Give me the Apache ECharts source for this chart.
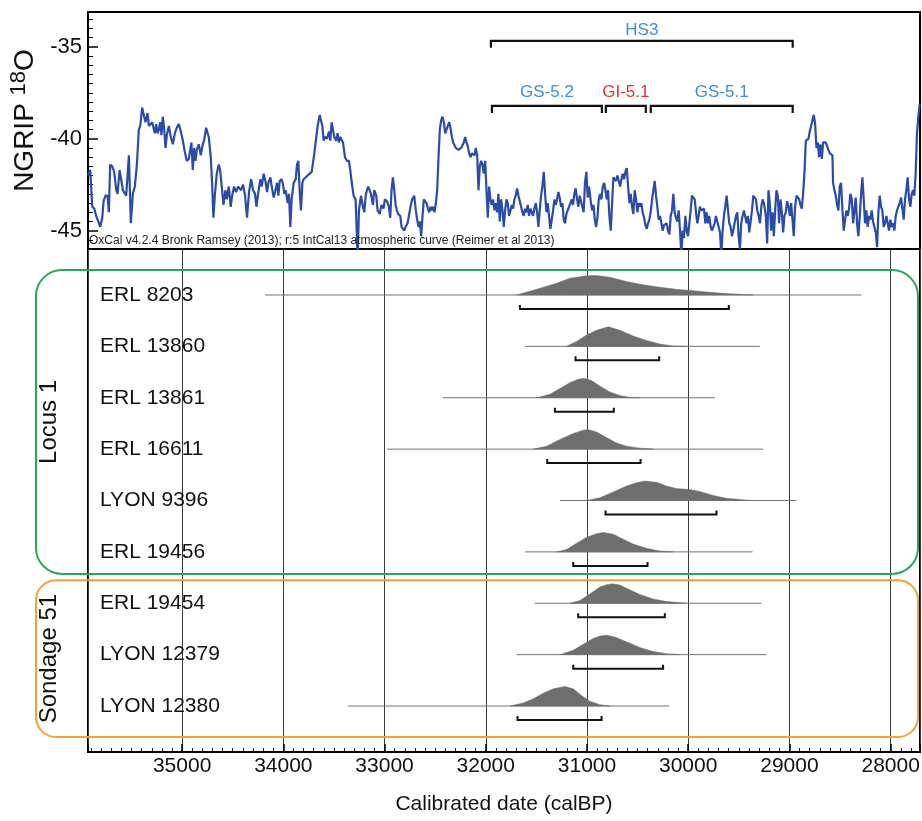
<!DOCTYPE html>
<html><head><meta charset="utf-8">
<script src="https://cdn.jsdelivr.net/npm/echarts@6/dist/echarts.min.js"></script>
<style>html,body{margin:0;padding:0;background:#fff}#c{width:922px;height:821px}</style>
</head><body><div id="c"></div>
<script>
// ---------- DATA ----------
// NGRIP d18O record (calBP, permil)
const ngripYears = [
35930,35908,35888,35868,35849,35829,35809,35789,35776,35757,35737,35724,35711,35691,35671,35651,35638,35618,35599,35585,
35566,35553,35526,35507,35487,35467,35447,35428,35414,35395,35375,35362,35342,35329,35316,35296,35283,35270,35256,35243,
35230,35217,35204,35191,35178,35164,35151,35131,35112,35092,35072,35053,35033,35013,34993,34974,34954,34934,34921,34908,
34895,34881,34868,34855,34835,34816,34796,34783,34763,34750,34737,34717,34704,34691,34677,34658,34638,34625,34605,34592,
34572,34559,34539,34520,34506,34487,34467,34447,
34418,34398,34378,34359,34339,34319,34299,34280,34266,34247,34227,34214,34194,34174,34161,34148,34128,34115,34095,34082,
34062,34049,34036,34016,34003,33990,33977,33957,33944,33931,33918,33898,33878,33865,33852,33839,33826,33812,33799,33780,
33760,33740,33720,33707,33694,33681,33661,33641,33628,33615,33602,33589,33569,33549,33536,33523,33510,33497,33477,33464,
33451,33437,33424,33411,33391,33372,33352,33339,33326,33306,33286,33266,33253,33233,33214,33200,33187,33174,33161,33148,
33135,33115,33102,33082,33069,33049,33030,33010,32997,32977,32957,32944,32931,32918,32904,32891,32878,32865,32845,32832,
32819,32806,32793,32773,32760,32740,32727,32707,
32691,32678,32664,32651,32638,32625,32612,32599,32586,32572,32559,32546,32533,32520,32507,32493,32480,32467,32454,32441,
32428,32414,32401,32388,32375,32362,32349,32335,32322,32309,32296,32283,32270,32257,32243,32230,32217,32204,32191,32178,
32164,32151,32138,32125,32112,32099,32085,32072,32059,32046,32033,32020,32006,31993,31980,31967,31954,31941,31928,31914,
31901,31888,31875,31862,31849,31835,31822,31809,31796,31783,31770,31756,31743,31730,31717,31704,31691,31677,31664,31651,
31638,31625,31612,31599,31585,31572,31559,31546,31533,31520,31506,31493,31480,31467,31454,31441,31427,31414,31401,31388,
31375,31362,31348,31335,31322,31309,31296,31283,31270,31256,31243,31230,31217,31204,31191,31177,31164,31151,31138,31125,
31112,31098,31085,31072,31059,31046,31033,31020,31006,30993,30980,
30963,30950,30936,30923,30910,30897,30884,30871,30858,30844,30831,30818,30805,30792,30779,30765,30752,30739,30726,30713,
30700,30686,30673,30660,30647,30634,30621,30607,30594,30581,30568,30555,30542,30529,30515,30502,30489,30476,30463,30450,
30436,30423,30410,30397,30384,30371,30357,30344,30331,30318,30305,30292,30279,30265,30252,30239,30226,30213,30200,30186,
30173,30160,30147,30134,30121,30107,30094,30081,30068,30055,30042,30028,30015,30002,29989,29976,29963,29950,29936,29923,
29910,29897,29884,29871,29857,29844,29831,29818,29805,29792,29778,29765,29752,29739,29726,29713,29699,29686,29673,29660,
29647,29634,29620,29607,29594,29581,29568,29555,29542,29528,29515,29502,29489,29476,29463,29449,29436,29423,29410,29397,
29384,29370,29357,29344,29331,29318,29304,29291,29278,29265,29252,
29233,29220,29207,29194,29181,29167,29154,29141,29128,29115,29102,29088,29075,29062,29049,29036,29023,29009,28996,28983,
28970,28957,28944,28930,28917,28904,28891,28878,28865,28852,28838,28825,28812,28799,28786,28773,28759,28746,28733,28720,
28707,28694,28680,28667,28654,28641,28628,28615,28601,28588,28575,28569,28555,28542,28529,28516,28503,28490,28476,28463,
28450,28437,28424,28411,28398,28384,28371,28358,28345,28332,28319,28305,28292,28279,28266,28253,28240,28227,28213,28200,
28187,28174,28161,28147,28134,28121,28108,28095,28082,28069,28055,28042,28029,28016,28003,27990,27976,27963,27950,27937,
27924,27911,27897,27884,27871,27858,27845,27832,27818,27805,27792,27779,27766,27753,27740,27726,27713
];
const ngripD18O = [
-42.0,-41.7,-43.7,-43.8,-44.2,-44.5,-44.8,-44.3,-43.4,-43.1,-43.1,-44.0,-41.4,-41.5,-41.8,-42.8,-43.0,-41.7,-41.7,-42.8,
-42.9,-43.1,-40.9,-44.6,-43.0,-42.6,-41.4,-39.5,-39.3,-38.3,-38.8,-39.1,-38.6,-39.3,-39.4,-39.1,-39.4,-39.7,-39.2,-39.7,
-39.5,-39.1,-39.8,-38.8,-39.4,-40.5,-39.8,-39.3,-39.9,-40.3,-39.7,-39.4,-39.2,-39.6,-40.1,-40.7,-41.2,-41.1,-41.2,-40.2,
-41.7,-40.5,-41.2,-40.6,-40.3,-40.9,-40.3,-40.1,-39.4,-39.5,-39.9,-41.0,-42.4,-44.3,-43.1,-41.9,-41.4,-41.7,-42.8,-43.6,
-42.8,-43.3,-42.6,-43.7,-43.1,-42.6,-42.9,-42.6,
-42.8,-42.5,-43.1,-44.3,-42.9,-42.2,-42.8,-43.0,-43.7,-42.9,-42.2,-42.6,-41.9,-42.4,-42.9,-42.4,-42.1,-42.6,-43.2,-42.9,
-42.4,-43.1,-42.3,-42.2,-42.5,-43.0,-42.8,-43.5,-43.0,-44.8,-43.3,-42.4,-42.2,-41.4,-41.2,-42.8,-43.9,-42.4,-42.2,-42.1,
-42.0,-41.9,-41.8,-41.3,-40.8,-40.2,-39.3,-38.7,-38.6,-39.3,-40.1,-39.9,-40.0,-39.6,-40.1,-39.1,-39.0,-39.9,-40.1,-39.7,
-40.2,-39.9,-39.8,-40.2,-41.0,-41.2,-41.2,-41.7,-42.3,-43.1,-43.3,-46.5,-43.9,-43.1,-43.7,-44.0,-43.1,-42.8,-42.6,-42.8,
-43.0,-43.6,-42.8,-43.1,-43.9,-44.1,-43.6,-43.8,-43.3,-43.4,-43.7,-44.3,-42.8,-42.1,-42.8,-43.6,-43.9,-44.1,-44.2,-44.8,
-44.8,-45.0,-44.8,-44.6,-44.5,-43.6,-43.3,-43.1,
-43.9,-44.4,-44.8,-44.5,-45.3,-44.2,-43.3,-43.4,-43.5,-43.8,-44.0,-43.7,-43.9,-43.7,-44.0,-43.5,-42.8,-41.0,-39.5,-39.0,
-38.8,-39.1,-39.7,-39.7,-39.3,-39.1,-39.4,-39.9,-40.2,-40.3,-40.5,-40.6,-40.6,-40.7,-40.5,-40.6,-40.2,-39.9,-40.2,-40.4,
-40.8,-41.0,-40.8,-40.9,-40.9,-40.5,-40.9,-42.8,-41.5,-41.2,-41.4,-41.9,-41.2,-42.8,-44.3,-42.6,-43.3,-43.6,-43.3,-43.9,
-43.5,-44.0,-43.0,-44.5,-43.3,-43.9,-44.8,-43.9,-43.3,-43.5,-44.2,-43.9,-43.6,-43.8,-43.3,-43.1,-42.7,-43.1,-43.4,-43.7,
-44.0,-44.2,-43.8,-44.0,-43.6,-44.2,-43.8,-43.9,-44.2,-43.8,-43.5,-44.0,-44.8,-43.9,-43.1,-42.6,-41.8,-43.0,-44.0,-43.5,
-44.2,-44.9,-44.4,-43.9,-43.3,-43.6,-43.3,-42.9,-43.2,-43.7,-43.5,-44.4,-44.6,-44.1,-43.9,-43.7,-43.5,-43.3,-43.6,-43.0,
-42.7,-43.3,-43.7,-43.1,-43.1,-43.7,-44.0,-42.4,-41.8,-43.2,-42.6,
-43.4,-43.9,-43.6,-44.4,-44.8,-44.3,-43.3,-43.0,-43.3,-42.6,-42.4,-42.8,-43.3,-42.8,-44.2,-45.0,-43.5,-42.1,-42.1,-42.3,
-42.0,-42.3,-42.6,-42.2,-41.9,-42.2,-41.8,-41.6,-42.6,-43.5,-43.0,-43.7,-44.1,-42.8,-43.3,-44.0,-43.5,-43.7,-43.5,-44.0,
-44.3,-44.7,-44.9,-44.6,-44.4,-44.0,-43.3,-42.8,-42.3,-43.1,-43.7,-44.4,-44.2,-44.6,-45.0,-44.7,-44.8,-44.6,-45.0,-45.2,
-44.2,-43.9,-43.0,-44.0,-44.3,-44.5,-43.9,-45.0,-46.3,-45.0,-45.4,-44.2,-45.0,-45.3,-44.6,-43.9,-43.1,-43.0,-43.3,-44.0,
-44.6,-44.2,-43.7,-43.9,-44.0,-43.8,-44.6,-44.0,-44.6,-44.2,-44.8,-45.0,-45.0,-44.6,-44.2,-44.5,-44.8,-45.1,-46.3,-45.0,
-44.2,-43.7,-43.1,-43.9,-44.6,-44.8,-45.3,-45.0,-44.6,-44.2,-44.0,-45.3,-46.0,-44.6,-44.2,-43.9,-44.0,-44.6,-44.2,-45.1,
-45.0,-43.9,-43.1,-43.0,-43.3,-43.9,-44.2,-44.6,-43.7,-43.3,-43.5,
-44.2,-45.7,-42.8,-43.5,-45.0,-44.0,-45.3,-43.9,-42.8,-43.1,-44.6,-43.3,-44.0,-45.1,-44.2,-44.0,-43.4,-43.7,-44.2,-43.5,
-44.4,-45.3,-43.7,-43.1,-43.1,-43.3,-43.6,-43.8,-43.0,-41.9,-40.1,-40.1,-40.0,-39.6,-39.3,-39.0,-38.7,-39.2,-40.5,-40.2,
-41.0,-40.3,-41.1,-40.2,-40.2,-40.2,-40.4,-40.6,-40.8,-40.8,-40.9,-42.4,-42.8,-43.1,-43.6,-43.9,-42.6,-42.4,-43.9,-45.0,
-44.4,-43.9,-44.2,-43.8,-43.0,-43.3,-44.6,-43.9,-43.2,-44.6,-45.3,-44.2,-43.0,-42.1,-43.3,-44.6,-43.9,-44.8,-44.2,-44.4,
-43.9,-44.5,-44.4,-45.1,-45.9,-44.0,-43.1,-43.7,-43.9,-44.8,-44.6,-44.2,-44.1,-45.0,-44.4,-44.8,-44.6,-45.0,-44.2,-43.9,
-43.7,-43.5,-43.2,-43.3,-44.4,-43.3,-42.8,-42.1,-43.3,-43.7,-43.0,-42.8,-43.1,-41.9,-39.7,-38.8,-38.1
];

// Climate stadials / interstadials
const periodNames = ['HS3', 'GS-5.2', 'GI-5.1', 'GS-5.1'];
const periodStart = [31949, 31939, 30814, 30370];
const periodEnd   = [28968, 30853, 30419, 28968];
const periodLevel = [0, 1, 1, 1];

// Radiocarbon samples
const sampleNames = ['ERL 8203','ERL 13860','ERL 13861','ERL 16611','LYON 9396','ERL 19456','ERL 19454','LYON 12379','LYON 12380'];
const groupNames = ['Locus 1', 'Sondage 51'];
const groupFirst = [0, 6];
const groupLast  = [5, 8];
const rangeStart = [34181, 31613, 32423, 32976, 31268, 31613, 31515, 31696, 33361];
const rangeEnd   = [28290, 29293, 29737, 29260, 28931, 29365, 29277, 29227, 30188];
const hpdStart   = [31663, 31113, 31317, 31393, 30817, 31136, 31087, 31136, 31686];
const hpdEnd     = [29599, 30287, 30735, 30471, 29721, 30402, 30231, 30248, 30856];
const densityYears = [
  [31696,31498,31301,31169,31004,30906,30774,30610,30445,30280,30116,29951,29787,29622,29359],
  [31202,31103,31004,30906,30790,30675,30544,30412,30280,30149,30017],
  [31498,31366,31268,31169,31087,31031,30955,30873,30774,30676,30577,30478],
  [31531,31399,31268,31136,31037,30988,30906,30807,30708,30610,30478,30346],
  [31004,30873,30741,30610,30511,30429,30313,30215,30116,29984,29885,29754,29622,29425,29359],
  [31301,31202,31103,31004,30906,30840,30741,30642,30544,30412,30280,30149],
  [31169,31070,30972,30873,30807,30748,30675,30577,30478,30346,30215,30017],
  [31268,31136,31037,30939,30873,30807,30725,30610,30478,30346,30215,30083],
  [31761,31630,31531,31432,31334,31218,31136,31054,30972,30873,30774]
];
const densityValues = [
  [0,0.29,0.60,0.86,0.98,1.0,0.91,0.69,0.52,0.40,0.29,0.22,0.14,0.07,0],
  [0,0.25,0.58,0.83,1.0,0.83,0.53,0.30,0.12,0.02,0],
  [0,0.18,0.47,0.77,0.95,1.0,0.88,0.60,0.30,0.11,0.02,0],
  [0,0.15,0.49,0.80,0.97,1.0,0.88,0.59,0.32,0.15,0.05,0],
  [0,0.14,0.44,0.74,0.91,1.0,0.93,0.75,0.61,0.56,0.46,0.26,0.11,0.02,0],
  [0,0.12,0.44,0.75,0.93,1.0,0.91,0.65,0.40,0.18,0.05,0],
  [0,0.14,0.48,0.83,0.95,1.0,0.93,0.69,0.45,0.22,0.09,0],
  [0,0.22,0.53,0.83,0.95,1.0,0.91,0.66,0.36,0.16,0.05,0],
  [0,0.15,0.37,0.66,0.88,1.0,0.88,0.54,0.24,0.07,0]
];

// ---------- LAYOUT / STYLE ----------
const X_MIN = 27710, X_MAX = 35930;
const FONT = '"Liberation Sans", Arial, sans-serif';
const PEAK_PX = 19.5, BAR_OFFSET = 14;
const BRACKET_Y = [-34.67, -38.21];
const BRACKET_LABEL_GAP = [11, 14];
const periodColors = ['#3d8fd6', '#3d8fd6', '#e3323a', '#3d8fd6'];
const groupColors = ['#2aa55a', '#f5a133'];

const chart = echarts.init(document.getElementById('c'), null, {renderer: 'canvas'});

const option = {
  animation: false,
  backgroundColor: '#fff',
  textStyle: {fontFamily: FONT},
  grid: [
    {left: 88, right: 2, top: 12, height: 237, show: true, borderColor: '#000', borderWidth: 2,
     backgroundColor: 'transparent', containLabel: false, outerBoundsMode: 'none'},
    {left: 88, right: 2, top: 249, height: 503, show: true, borderColor: '#000', borderWidth: 2,
     backgroundColor: 'transparent', containLabel: false, outerBoundsMode: 'none'}
  ],
  xAxis: [
    {gridIndex: 0, type: 'value', min: X_MIN, max: X_MAX, inverse: true, show: false},
    {gridIndex: 1, type: 'value', min: X_MIN, max: X_MAX, inverse: true, splitNumber: 8,
     axisLine: {show: true, onZero: false, lineStyle: {color: '#000', width: 2}},
     axisTick: {show: true, inside: true, length: 8, lineStyle: {color: '#000', width: 1.5}},
     minorTick: {show: true, splitNumber: 10, length: 4, lineStyle: {color: '#000', width: 1}},
     splitLine: {show: true, lineStyle: {color: '#3a3a3a', width: 1}},
     axisLabel: {fontSize: 21, color: '#111', margin: 4, fontFamily: FONT, showMinLabel: false, showMaxLabel: false,
                 formatter: v => String(v)},
     name: 'Calibrated date (calBP)', nameLocation: 'middle', nameGap: 42,
     nameTextStyle: {fontSize: 21, color: '#111', fontFamily: FONT}}
  ],
  yAxis: [
    {gridIndex: 0, type: 'value', min: -46, max: -33.1, splitNumber: 3,
     axisLine: {show: true, onZero: false, lineStyle: {color: '#000', width: 2}},
     axisTick: {show: true, inside: true, length: 10, lineStyle: {color: '#000', width: 1.5}},
     minorTick: {show: true, splitNumber: 10, length: 5, lineStyle: {color: '#000', width: 1}},
     splitLine: {show: false},
     axisLabel: {fontSize: 22, color: '#111', margin: 6, fontFamily: FONT, showMinLabel: false, showMaxLabel: false},
     name: '{a|NGRIP }{s|18}{a|O}', nameLocation: 'middle', nameGap: 42, nameRotate: 90,
     nameTextStyle: {padding: [0, 0, 0, 20], rich: {
       a: {fontSize: 28, color: '#111', fontFamily: FONT},
       s: {fontSize: 22, color: '#111', fontFamily: FONT, verticalAlign: 'top', padding: [0, 0, 12, 0]}
     }}},
    {gridIndex: 1, type: 'value', min: -0.895, max: 8.895, inverse: true, show: false}
  ],
  series: [
    {
      type: 'line', xAxisIndex: 0, yAxisIndex: 0, clip: true,
      data: ngripYears.map((y, i) => [y, ngripD18O[i]]),
      showSymbol: false, symbol: 'none',
      lineStyle: {color: '#2b4ba8', width: 2.2}, z: 3
    },
    {
      type: 'custom', xAxisIndex: 0, yAxisIndex: 0,
      data: periodNames.map((n, i) => [periodStart[i], periodEnd[i], BRACKET_Y[periodLevel[i]]]),
      encode: {x: [0, 1], y: 2},
      renderItem: function (params, api) {
        const i = params.dataIndex;
        const lv = periodLevel[i];
        const p1 = api.coord([periodStart[i], BRACKET_Y[lv]]);
        const p2 = api.coord([periodEnd[i], BRACKET_Y[lv]]);
        const y = p1[1];
        return {type: 'group', children: [
          {type: 'polyline', shape: {points: [[p1[0], y + 7], [p1[0], y], [p2[0], y], [p2[0], y + 7]]},
           style: {stroke: '#111', lineWidth: 2.2, fill: null}},
          {type: 'text', x: (p1[0] + p2[0]) / 2, y: y - BRACKET_LABEL_GAP[lv],
           style: {text: periodNames[i], fill: periodColors[i], font: '17px ' + FONT,
                   align: 'center', verticalAlign: 'middle', textAlign: 'center', textVerticalAlign: 'middle'}}
        ]};
      }, z: 4
    },
    {
      type: 'custom', xAxisIndex: 1, yAxisIndex: 1,
      data: sampleNames.map((n, i) => [rangeStart[i], rangeEnd[i], i]),
      encode: {x: [0, 1], y: 2},
      renderItem: function (params, api) {
        const i = params.dataIndex;
        const a = api.coord([rangeStart[i], i]);
        const b = api.coord([rangeEnd[i], i]);
        const pts = densityYears[i].map((yr, k) => {
          const p = api.coord([yr, i]);
          return [p[0], p[1] - densityValues[i][k] * PEAK_PX];
        });
        const h1 = api.coord([hpdStart[i], i]);
        const h2 = api.coord([hpdEnd[i], i]);
        const by = a[1] + BAR_OFFSET;
        const lx = api.coord([X_MAX, i])[0] + 12;
        return {type: 'group', children: [
          {type: 'line', shape: {x1: a[0], y1: a[1], x2: b[0], y2: b[1]}, style: {stroke: '#7a7070', lineWidth: 1}},
          {type: 'polygon', shape: {points: pts}, style: {fill: '#6e6e6e', stroke: '#6e6e6e', lineWidth: 0.5}},
          {type: 'polyline', shape: {points: [[h1[0], by - 4], [h1[0], by], [h2[0], by], [h2[0], by - 4]]},
           style: {stroke: '#111', lineWidth: 2, fill: null}},
          {type: 'text', x: lx, y: a[1],
           style: {text: sampleNames[i], fill: '#111', font: '21px ' + FONT,
                   align: 'left', verticalAlign: 'middle', textAlign: 'left', textVerticalAlign: 'middle'}}
        ]};
      }, z: 4
    }
  ]
};
chart.setOption(option);

// group boxes (Locus 1 / Sondage 51), positioned from the row scale
const padTop = [25, 23], padBottom = [22, 31], radius = [26, 20];
const graphics = [];
groupNames.forEach((g, k) => {
  const yTop = chart.convertToPixel({xAxisIndex: 1, yAxisIndex: 1}, [X_MAX, groupFirst[k]])[1] - padTop[k];
  const yBot = chart.convertToPixel({xAxisIndex: 1, yAxisIndex: 1}, [X_MAX, groupLast[k]])[1] + padBottom[k];
  graphics.push({type: 'rect', shape: {x: 36, y: yTop, width: 882, height: yBot - yTop, r: radius[k]},
    style: {fill: null, stroke: groupColors[k], lineWidth: 2}, z: 10, silent: true});
  graphics.push({type: 'text', x: 49, y: (yTop + yBot) / 2, rotation: Math.PI / 2, z: 10,
    style: {text: g, fill: '#111', font: '24px ' + FONT, align: 'center', verticalAlign: 'middle',
            textAlign: 'center', textVerticalAlign: 'middle'}});
});
graphics.push({type: 'text', left: 89, top: 235, z: 10,
  style: {text: 'OxCal v4.2.4 Bronk Ramsey (2013); r:5 IntCal13 atmospheric curve (Reimer et al 2013)',
          fill: '#222', font: '12px ' + FONT}});
chart.setOption({graphic: graphics});
</script>
</body></html>
